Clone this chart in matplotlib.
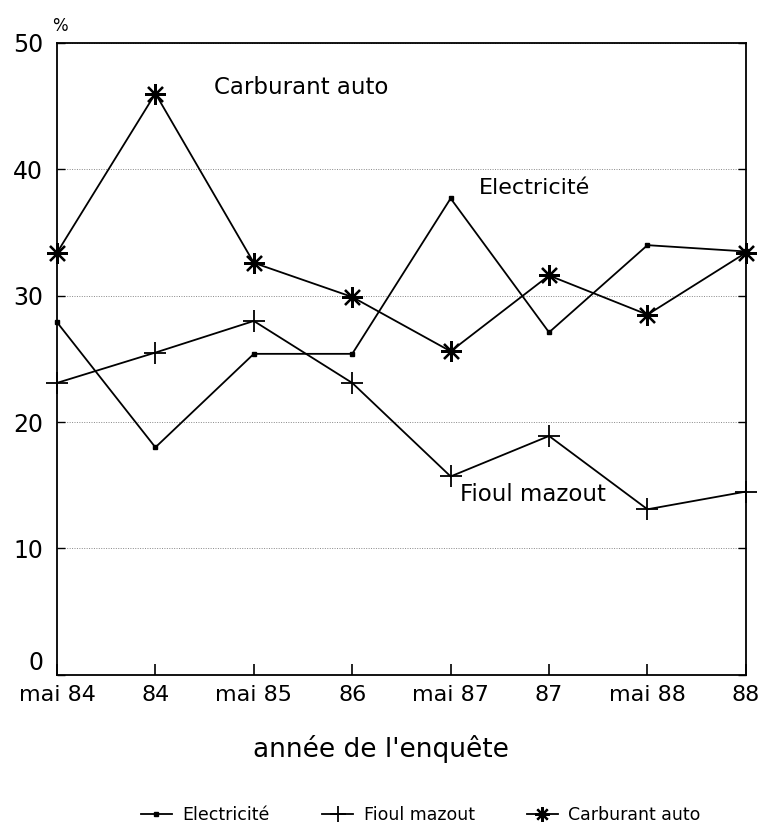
import matplotlib
matplotlib.use('Agg')
import matplotlib.pyplot as plt
import matplotlib.transforms as mtransforms
import numpy as np

# donnees
periodes = ['mai 84', '84', 'mai 85', '86', 'mai 87', '87', 'mai 88', '88']
electricite = [27.9, 18.0, 25.4, 25.4, 37.7, 27.1, 34.0, 33.5]
fioul = [23.1, 25.5, 28.0, 23.1, 15.7, 18.9, 13.1, 14.5]
carburant = [33.4, 46.0, 32.6, 29.9, 25.6, 31.6, 28.5, 33.4]

plt.rcParams['font.family'] = 'DejaVu Sans'

fig = plt.figure(figsize=(7.65, 8.26), dpi=100)
ax = fig.add_axes([0.0745, 0.183, 0.9005, 0.765])

x = np.arange(len(periodes))
ax.plot(x, electricite, color='black', lw=1.3, marker='s', ms=3.5,
        clip_on=False, zorder=3, label='Electricité')
ax.plot(x, fioul, color='black', lw=1.3, marker='+', ms=16, mew=1.3,
        clip_on=False, zorder=3, label='Fioul mazout')
ax.plot(x, carburant, color='black', lw=1.3, marker=(8, 2, 0), ms=15, mew=1.6,
        clip_on=False, zorder=3, label='Carburant auto')

ax.set_xlim(0, 7)
ax.set_ylim(0, 50)
ax.set_xticks(x)
ax.set_xticklabels(periodes, fontsize=16)
ax.set_yticks(range(0, 51, 10))
ax.set_yticklabels([str(v) for v in range(0, 51, 10)], fontsize=17)
ax.tick_params(axis='x', direction='in', length=8, width=1.2, pad=7)
ax.tick_params(axis='y', direction='in', length=6, width=1, right=True, pad=10)
ax.yaxis.grid(True, linestyle=(0, (1, 1.5)), color='#888888', lw=0.7)
for s in ax.spines.values():
    s.set_linewidth(1.3)

# le "0" est un peu remonte, comme sur l'original
lab0 = ax.get_yticklabels()[0]
lab0.set_transform(lab0.get_transform() +
                   mtransforms.ScaledTranslation(0, 10 / 72, fig.dpi_scale_trans))

# etiquettes dans le graphique
ax.text(1.6, 46.5, 'Carburant auto', fontsize=16.5, va='center')
ax.text(4.29, 38.5, 'Electricité', fontsize=16, va='center')
ax.text(4.1, 14.3, 'Fioul mazout', fontsize=16.5, va='center')

fig.text(0.079, 0.968, '%', fontsize=12, ha='center', va='center')
ax.set_xlabel("année de l'enquête", fontsize=19, labelpad=20)
ax.xaxis.set_label_coords(0.47, -0.095)

fig.legend(loc='center', bbox_to_anchor=(0.55, 0.013), ncol=3, frameon=False,
           fontsize=12.5, handlelength=1.8, handletextpad=0.6, columnspacing=3,
           markerscale=0.7)

fig.savefig('out.png', dpi=100)
